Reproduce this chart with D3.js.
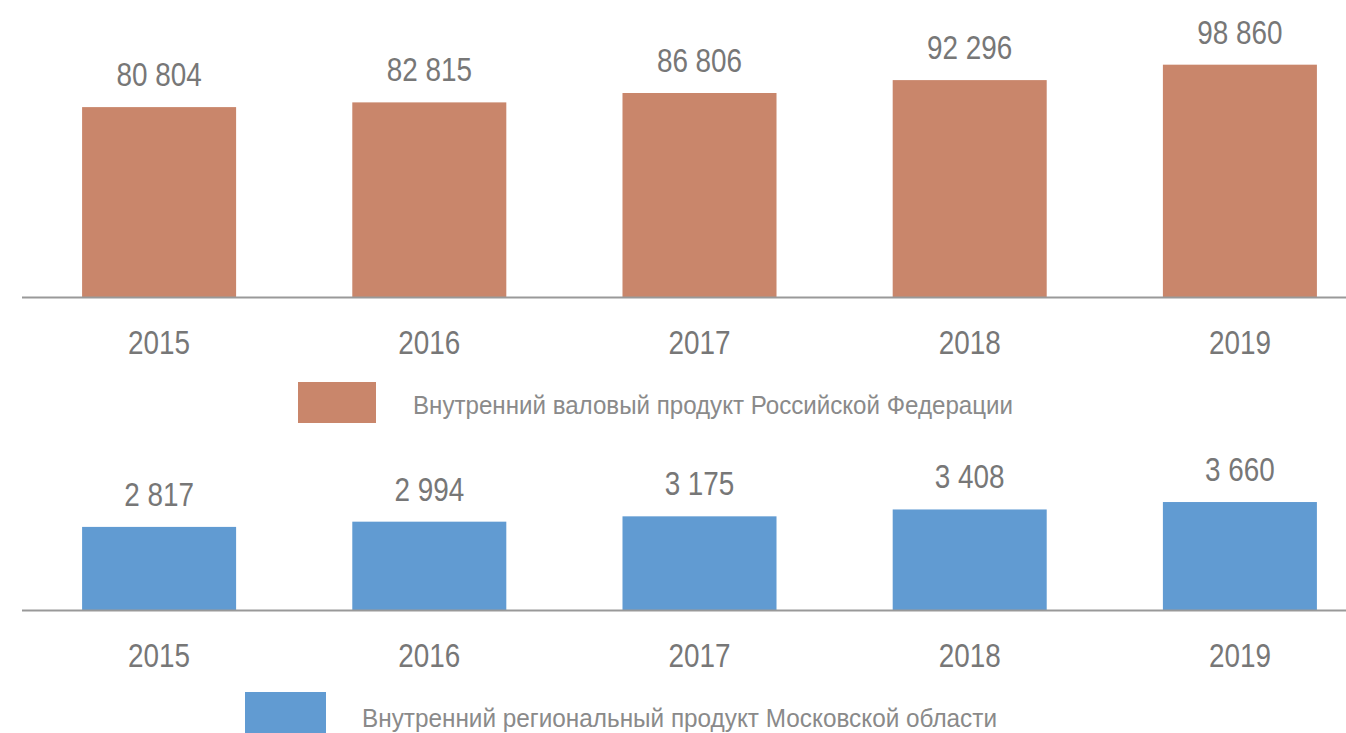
<!DOCTYPE html>
<meta charset="utf-8">
<style>
    body { margin: 0; background: #fff; }
    text { font-family: "Liberation Sans", Arial, sans-serif; fill: #777; }
    .legend text { fill: #8a8a8a; }
</style>
<svg width="1346" height="733"></svg>
<script src="https://cdn.jsdelivr.net/npm/d3@7"></script>
<script>
    var years = ["2015", "2016", "2017", "2018", "2019"];
    var gdpRussia = [80804, 82815, 86806, 92296, 98860];
    var grpMoscowRegion = [2817, 2994, 3175, 3408, 3660];
    var legendTop = "Внутренний валовый продукт Российской  Федерации";
    var legendBottom = "Внутренний региональный продукт Московской области";

    var svg = d3.select("svg");
    var fmt = function (v) { return d3.format(",")(v).replace(/,/g, " "); };
    var narrow = 0.82; // arial narrow look

    var x = d3.scaleBand().domain(years).range([24, 1375]).paddingInner(0.43).paddingOuter(0.215);

    function panel(values, color, base, yMax, h, yearY) {
        var y = d3.scaleLinear().domain([0, yMax]).range([base, base - h]);
        var g = svg.append("g");

        g.selectAll("rect").data(values).enter().append("rect")
            .attr("x", function (d, i) { return x(years[i]); })
            .attr("width", x.bandwidth())
            .attr("y", function (d) { return y(d); })
            .attr("height", function (d) { return base - y(d); })
            .attr("fill", color);

        g.selectAll(".val").data(values).enter().append("text")
            .attr("class", "val")
            .attr("transform", function (d, i) {
                return "translate(" + (x(years[i]) + x.bandwidth() / 2) + "," + (y(d) - 21) + ") scale(" + narrow + ",1)";
            })
            .attr("text-anchor", "middle")
            .style("font-size", "34px")
            .text(fmt);

        g.append("line")
            .attr("x1", 22).attr("x2", 1346)
            .attr("y1", base + 0.5).attr("y2", base + 0.5)
            .attr("stroke", "#999").attr("stroke-width", 2);

        var ax = d3.axisBottom(x).tickSize(0).tickPadding(0);
        var axg = g.append("g").attr("transform", "translate(0," + yearY + ")").call(ax);
        axg.select(".domain").remove();
        axg.selectAll("text")
            .attr("dy", null).attr("y", 0)
            .attr("transform", "scale(" + narrow + ",1)")
            .style("font-size", "34px")
            .style("fill", "#777");
    }

    panel(gdpRussia, "#c9866b", 297, 100000, 235, 354);
    panel(grpMoscowRegion, "#619bd2", 610, 4000, 118, 667);

    function legend(x0, y0, w, h, color, label, tx, ty, len) {
        var g = svg.append("g").attr("class", "legend");
        g.append("rect").attr("x", x0).attr("y", y0).attr("width", w).attr("height", h).attr("fill", color);
        g.append("text").attr("x", tx).attr("y", ty)
            .attr("textLength", len).attr("lengthAdjust", "spacingAndGlyphs")
            .style("font-size", "26px").text(label);
    }
    legend(298, 382, 78, 41, "#c9866b", legendTop, 413, 414, 600);
    legend(245, 692, 81, 45, "#619bd2", legendBottom, 362, 727, 635);
</script>
